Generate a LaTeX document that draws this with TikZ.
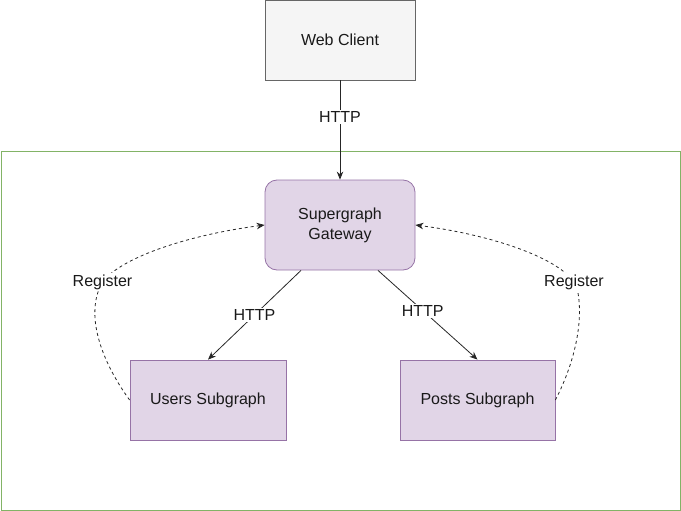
\documentclass[tikz,border=0pt]{standalone}
\usepackage{fontspec}
\setmainfont{Liberation Sans}
\usetikzlibrary{arrows.meta,calc}
\definecolor{greyfill}{HTML}{F5F5F5}
\definecolor{greyline}{HTML}{666666}
\definecolor{purfill}{HTML}{E1D5E7}
\definecolor{purline}{HTML}{9673A6}
\definecolor{grnline}{HTML}{82B366}
\begin{document}
\begin{tikzpicture}[x=1pt,y=-1pt,
  every node/.style={font=\fontsize{16}{20}\selectfont, text=black!90},
  greybox/.style={draw=greyline, fill=greyfill, line width=0.8pt, minimum width=150pt, minimum height=80pt, inner sep=0pt, align=center},
  purbox/.style={draw=purline, fill=purfill, line width=0.8pt, minimum width=155pt, minimum height=80pt, inner sep=0pt, align=center},
  gwbox/.style={purbox, minimum width=150pt, minimum height=90pt, rounded corners=12pt},
  lbl/.style={fill=white, inner sep=1.5pt},
  conn/.style={draw=black!85, line width=0.8pt, -{Stealth[length=8pt,width=6.5pt]}},
  dconn/.style={conn, dash pattern=on 3pt off 3pt}
]
\useasboundingbox (0,0) rectangle (681,511);
\node[draw=grnline, line width=0.8pt, minimum width=679pt, minimum height=359pt, inner sep=0pt] (zone) at (340.5,330.5) {};
\node[greybox] (web) at (340,40) {Web Client};
\node[gwbox] (gw) at (340,225) {Supergraph\\Gateway};
\node[purbox, minimum width=156pt] (users) at (208,400) {Users Subgraph};
\node[purbox] (posts) at (477.5,400) {Posts Subgraph};

\draw[conn] (web) -- node[lbl, pos=0.37] {HTTP} (gw);
\draw[conn] ([xshift=-39pt]gw.south) -- node[lbl, pos=0.5] (h1) {HTTP} (users.north);
\draw[conn] ([xshift=38pt]gw.south) -- node[lbl, pos=0.45] (h2) {HTTP} (posts.north);

\coordinate (r1) at (100,287);
\coordinate (r2) at (577,288);
\draw[dconn] (users.west) .. controls (102,362) and (86,318) .. (r1)
  .. controls (110,262) and (180,236) .. (gw.west);
\draw[dconn] (posts.east) .. controls (576,360) and (584,318) .. (r2)
  .. controls (568,262) and (500,236) .. (gw.east);
\node[lbl] (reg1) at (102.5,282) {Register};
\node[lbl] (reg2) at (574,282) {Register};
\end{tikzpicture}
\end{document}
